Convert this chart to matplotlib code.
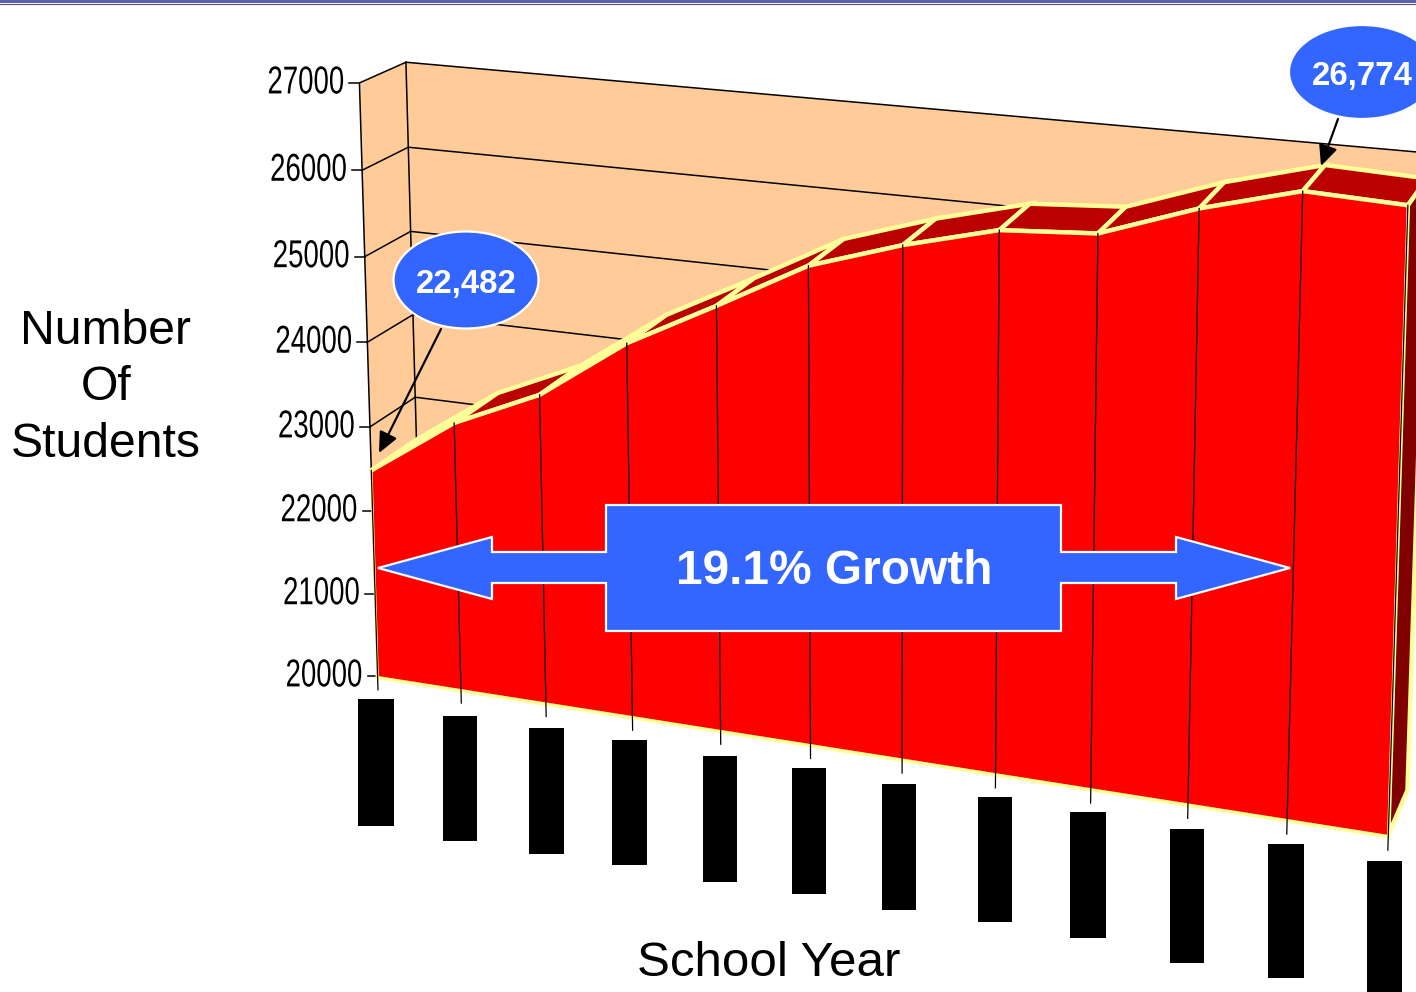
import numpy as np
import matplotlib
matplotlib.use("Agg")
import matplotlib.pyplot as plt
from matplotlib.patches import Ellipse, Polygon, Rectangle
from matplotlib.patheffects import AbstractPathEffect
from matplotlib.transforms import Affine2D

plt.rcParams['font.family'] = ['Liberation Sans', 'DejaVu Sans']

# valori
years = list(range(12))
students = [22482, 23175, 23630, 24345, 24885, 25445, 25780, 26050, 26120, 26490, 26774, 26730]
y_ticks = [20000, 21000, 22000, 23000, 24000, 25000, 26000, 27000]
y_title = "Number\nOf\nStudents"
x_title = "School Year"
callouts = ["22,482", "26,774"]
growth_label = "19.1% Growth"

RED = "#FF0000"
DARK_RED = "#BB0000"
SIDE_RED = "#800000"
YELLOW = "#FFFF99"
PEACH = "#FFCC99"
BLUE = "#3366FF"

# camera: (anno, valore, profondita) -> pixel, punti presi dal riferimento
# gli angoli in alto sono ripetuti per dare loro piu peso
camera_from = np.array([
    (0, 20000, 0), (5, 20000, 0), (11, 20000, 0), (0, 21000, 0), (0, 22000, 0), (0, 23000, 0),
    (0, 24000, 0), (0, 25000, 0), (0, 26000, 0), (0, 27000, 0), (0, 27000, 0), (0, 27000, 0),
    (0, 27000, 1), (0, 27000, 1), (0, 27000, 1), (0, 26000, 1), (0, 23000, 1), (10, 26774, 0), (10, 26774, 0),
    (10, 26774, 1), (11, 20000, 1), (5, 25410, 0), (5, 25410, 1), (8, 26120, 0), (8, 26120, 1),
    (11, 26730, 0), (1, 23130, 1),
], dtype=float)
camera_to = np.array([
    (378, 676), (811, 744), (1387, 835), (375, 595), (374, 511), (370, 426),
    (367, 342), (364, 257), (362, 168), (359, 84), (359, 84), (359, 84),
    (406, 63), (406, 63), (406, 63), (408, 148), (415, 398), (1303, 193), (1303, 193),
    (1323, 165), (1407, 792), (808, 265), (845, 241), (1099, 232), (1128, 205),
    (1408, 205), (497, 394),
], dtype=float)

# riquadri neri sopra le etichette degli anni: sinistra, destra, alto, basso
label_boxes = [(358, 394, 699, 826), (443, 477, 716, 841), (529, 564, 728, 854), (612, 647, 740, 865),
               (703, 737, 756, 882), (792, 826, 768, 894), (882, 916, 784, 910), (978, 1012, 797, 922),
               (1070, 1106, 812, 938), (1170, 1204, 829, 963), (1268, 1304, 844, 978), (1367, 1402, 861, 992)]


class Squeeze(AbstractPathEffect):
    # le etichette dell'asse y sono schiacciate in orizzontale
    def __init__(self, factor):
        super().__init__()
        self.factor = factor

    def draw_path(self, renderer, gc, tpath, affine, rgbFace=None):
        renderer.draw_path(gc, tpath, Affine2D().scale(self.factor, 1) + affine, rgbFace)


def to_world(i, v, d):
    return np.stack([np.asarray(i, float), (np.asarray(v, float) - 20000) / 1000.0,
                     np.asarray(d, float), np.ones_like(np.asarray(i, float))], axis=-1)


def fit_camera():
    rows = []
    w = to_world(camera_from[:, 0], camera_from[:, 1], camera_from[:, 2])
    for p, (u, t) in zip(w, camera_to):
        rows.append(np.r_[p, np.zeros(4), -u * p])
        rows.append(np.r_[np.zeros(4), p, -t * p])
    return np.linalg.svd(np.array(rows))[2][-1].reshape(3, 4)


P = fit_camera()


def project(i, v, d=0):
    i, v, d = np.broadcast_arrays(np.asarray(i, float), np.asarray(v, float), np.asarray(d, float))
    h = to_world(i, v, d) @ P.T
    return h[..., 0] / h[..., 2], h[..., 1] / h[..., 2]


fig = plt.figure(figsize=(14.16, 9.92), dpi=100)
ax = fig.add_axes([0, 0, 1, 1])
ax.set_xlim(0, 1416)
ax.set_ylim(992, 0)
ax.axis("off")
ax.autoscale(False)

# barra in alto
ax.add_patch(Rectangle((0, 0), 1416, 3, fc="#5A5FB4", ec="none", zorder=1))
ax.plot([0, 1416], [3.5, 3.5], color="#555566", lw=0.8, zorder=1)

# pareti
first, last = years[0], years[-1]
lo, hi = y_ticks[0], y_ticks[-1]
ax.fill(*project([first, first, first, first], [lo, hi, hi, lo], [0, 0, 1, 1]), fc=PEACH, ec="none", zorder=1)
ax.fill(*project([first, last, last, first], [lo, lo, hi, hi], 1), fc=PEACH, ec="none", zorder=1)
for t in y_ticks:
    ax.plot(*project([first, first], t, [0, 1]), color="black", lw=1.1, zorder=2)
    ax.plot(*project([first, last], t, 1), color="black", lw=1.1, zorder=2)
ax.plot(*project(first, [lo, hi], 1), color="black", lw=1.1, zorder=2)
ax.plot(*project(first, [lo, hi], 0), color="black", lw=1.1, zorder=2)

# asse y
squeeze = [Squeeze(0.71)]
for t in y_ticks:
    px, py = project(first, t, 0)
    ax.plot([px - 10, px], [py, py], color="black", lw=1.1, zorder=2)
    ax.text(px - 15 - 77, py + 0.5, str(t), ha="left", va="center", fontsize=28,
            color="black", path_effects=squeeze, zorder=8)

# superficie superiore e lato destro
for k in range(len(years) - 1):
    ii = [years[k], years[k + 1], years[k + 1], years[k]]
    vv = [students[k], students[k + 1], students[k + 1], students[k]]
    ax.fill(*project(ii, vv, [0, 0, 1, 1]), fc=DARK_RED, ec=YELLOW, lw=3.2, joinstyle="miter", zorder=3)
ax.fill(*project([last] * 4, [lo, lo, students[-1], students[-1]], [0, 1, 1, 0]),
        fc=SIDE_RED, ec=YELLOW, lw=3.2, joinstyle="miter", zorder=3)

# faccia frontale
xs = years + [last, first]
vs = students + [lo, lo]
ax.plot(*project([first, last], lo - 15), color=YELLOW, lw=3.2, zorder=3.5)
ax.fill(*project(xs, vs), fc=RED, ec="none", zorder=4)
ax.plot(*project(years, students), color=YELLOW, lw=3.2, solid_joinstyle="miter", zorder=5)
ax.plot(*project(first, [lo, students[0]]), color=YELLOW, lw=1.8, zorder=5)
ax.plot(*project(last, [lo, students[-1]]), color=YELLOW, lw=1.8, zorder=5)

# linee verticali e tacche
for i, v in zip(years, students):
    ax.plot(*project(i, [v, lo - 170]), color="black", lw=0.9, zorder=6)
for left, right, top, bottom in label_boxes:
    ax.add_patch(Rectangle((left, top), right - left, bottom - top, fc="black", ec="none", zorder=6))

# freccia crescita
arrow = np.array([(378, 568), (492, 537), (492, 552), (606, 552), (606, 505), (1061, 505), (1061, 552),
                  (1176, 552), (1176, 537), (1290, 568), (1176, 599), (1176, 583), (1061, 583),
                  (1061, 631), (606, 631), (606, 583), (492, 583), (492, 599)])
ax.add_patch(Polygon(arrow, closed=True, fc=BLUE, ec="white", lw=1.6, joinstyle="miter", zorder=7))
ax.text(834, 572, growth_label, ha="center", va="center", color="white", fontsize=34.5,
        fontweight="bold", zorder=8)

# ovali con frecce
ovals = [(466, 280, 145, 97), (1362, 72, 146, 94)]
tips = [((379, 453), (441, 329)), ((1321, 166), (1338, 119))]
for (cx, cy, w, h), label, (tip, tail) in zip(ovals, callouts, tips):
    ax.annotate("", xy=tip, xytext=tail, zorder=7,
                arrowprops=dict(arrowstyle="-|>,head_length=0.7,head_width=0.32", color="black", lw=1.6,
                                shrinkA=0, shrinkB=0, mutation_scale=18))
    ax.add_patch(Ellipse((cx, cy), w, h, fc=BLUE, ec="white", lw=1.6, zorder=7))
    ax.text(cx, cy + 5, label, ha="center", va="center", color="white", fontsize=23.8,
            fontweight="bold", zorder=8)

# titoli assi
ax.text(106, 388, y_title, ha="center", va="center", fontsize=34.7, linespacing=1.33, color="black")
ax.text(769, 964, x_title, ha="center", va="center", fontsize=35.5, color="black")

fig.savefig("out.png", dpi=100)
